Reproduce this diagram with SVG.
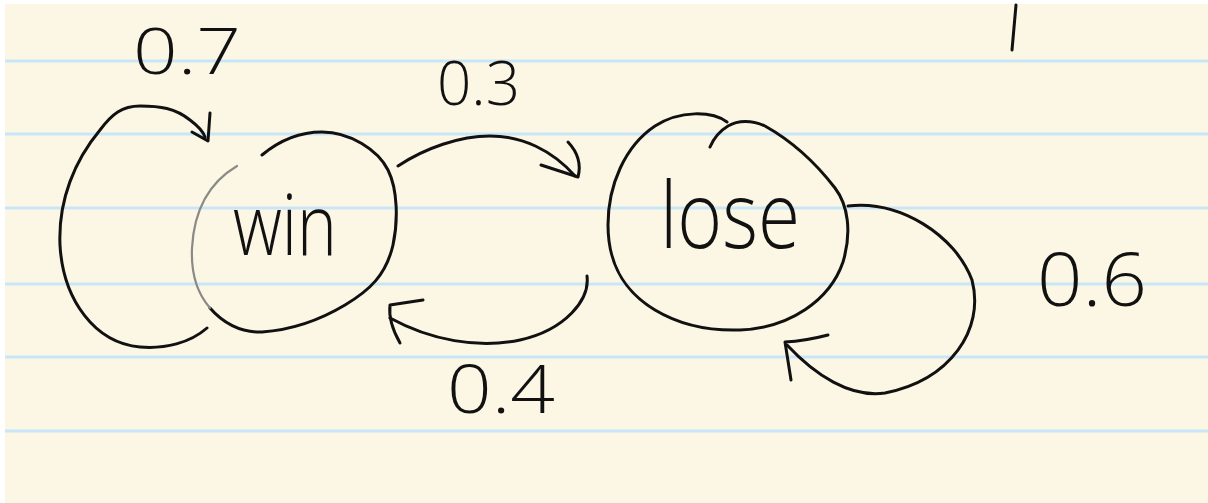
<svg xmlns="http://www.w3.org/2000/svg" width="1208" height="503" viewBox="0 0 1208 503">
<style>
.paper{fill:#fcf6e5}
.rule{stroke:#c9e6f9;stroke-width:3}
.ink{fill:none;stroke:#111;stroke-width:3;stroke-linecap:round;stroke-linejoin:round}
.faint{fill:none;stroke:#8a8a86;stroke-width:2.2;stroke-linecap:round}
.lbl{font-family:"Open Sans","DejaVu Sans",sans-serif;font-weight:300;fill:#111}
</style>
<rect width="1208" height="503" fill="#ffffff"/>
<rect class="paper" x="5" y="4" width="1203" height="499"/>
<g id="rules">
<line class="rule" x1="5" y1="61" x2="1208" y2="61"/>
<line class="rule" x1="5" y1="134" x2="1208" y2="134"/>
<line class="rule" x1="5" y1="208" x2="1208" y2="208"/>
<line class="rule" x1="5" y1="284" x2="1208" y2="284"/>
<line class="rule" x1="5" y1="357" x2="1208" y2="357"/>
<line class="rule" x1="5" y1="431" x2="1208" y2="431"/>
</g>
<path class="ink" d="M1016 5 L1012 50" stroke-width="2.6"/>
<g id="node-win">
<path class="ink" d="M262 155 C280 140 300 132 322 132 C350 132 378 150 388 170 C398 190 398 222 393 245 C386 275 370 290 345 305 C320 320 290 330 262 332 C240 333 222 322 210 308"/>
<path class="faint" d="M210 308 C196 292 191 270 192 248 C194 210 210 182 237 166"/>
<text class="lbl" x="233" y="255" font-size="84" textLength="104" lengthAdjust="spacingAndGlyphs">win</text>
</g>
<g id="node-lose">
<path class="ink" d="M727 122 C712 111 680 110 655 126 C625 146 608 185 608 225 C608 262 622 290 655 310 C680 325 710 331 740 330 C790 328 830 300 843 262 C852 232 848 205 835 188 C815 162 790 140 765 126 C752 120 738 120 728 126 C718 132 713 140 710 147"/>
<text class="lbl" x="660" y="248" font-size="92" textLength="140" lengthAdjust="spacingAndGlyphs">lose</text>
</g>
<g id="connectors">
<g id="edge-win-win">
<path class="ink" d="M207 328 C190 343 165 349 140 347 C95 343 63 300 60 245 C58 200 75 160 100 130 C112 114 122 106 140 106 C160 106 175 108 190 120 C198 126 203 131 205 137"/>
<path class="ink" d="M210 113 L208 141 L192 132"/>
<text class="lbl" x="133" y="74" font-size="64" textLength="108" lengthAdjust="spacingAndGlyphs">0.7</text>
</g>
<g id="edge-win-lose">
<path class="ink" d="M398 166 C425 148 460 136 490 136 C522 136 552 150 575 176"/>
<path class="ink" d="M568 142 Q583 158 578 177 L541 165"/>
<text class="lbl" x="437" y="105" font-size="60" textLength="83" lengthAdjust="spacingAndGlyphs">0.3</text>
</g>
<g id="edge-lose-win">
<path class="ink" d="M587 276 C590 300 565 330 520 340 C478 349 430 340 390 318"/>
<path class="ink" d="M423 300 L390 305 Q388 322 400 343"/>
<text class="lbl" x="447" y="413" font-size="66" textLength="108" lengthAdjust="spacingAndGlyphs">0.4</text>
</g>
<g id="edge-lose-lose">
<path class="ink" d="M848 206 C900 200 955 235 972 280 C985 330 950 380 885 393 C850 398 815 375 787 345"/>
<path class="ink" d="M828 335 Q805 341 785 342 L791 380"/>
<text class="lbl" x="1037" y="306" font-size="74" textLength="110" lengthAdjust="spacingAndGlyphs">0.6</text>
</g>
</g>
</svg>
